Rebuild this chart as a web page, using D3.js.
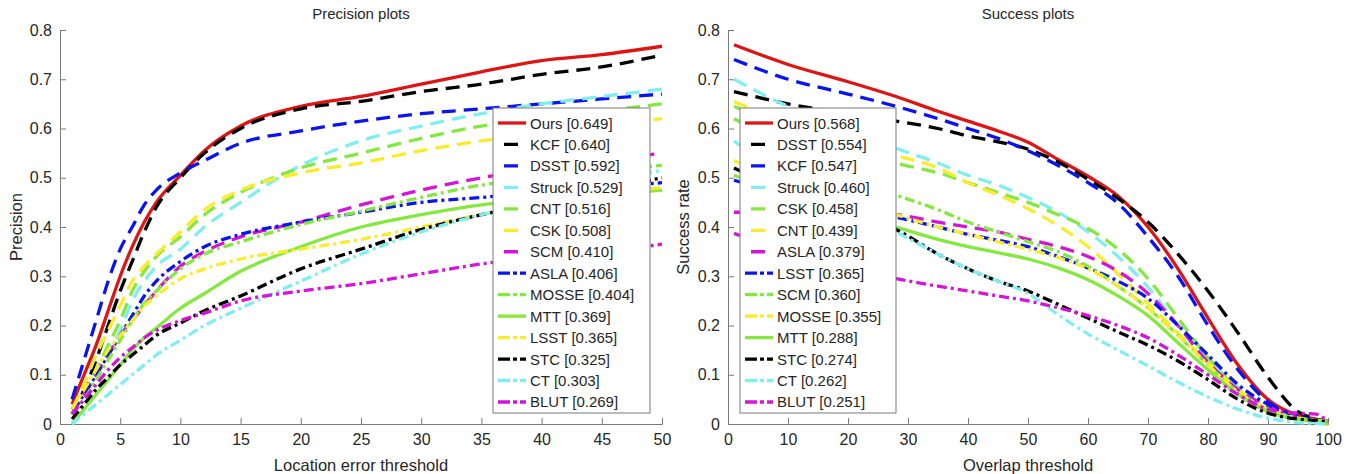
<!DOCTYPE html>
<html>
<head>
<meta charset="utf-8">
<script src="https://cdn.jsdelivr.net/npm/d3@7"></script>
<style>
  body { margin: 0; background: #fff; }
  svg text { font-family: "Liberation Sans", Arial, sans-serif; fill: #262626; }
</style>
</head>
<body>
<div id="chart"></div>
<script>
// ---- data ----
var precThresholds = [1, 2, 3, 4, 5, 6, 7, 8, 10, 12, 15, 20, 25, 30, 35, 40, 45, 50]
var precNames  = ['Ours', 'KCF', 'DSST', 'Struck', 'CNT', 'CSK', 'SCM', 'ASLA', 'MOSSE', 'MTT', 'LSST', 'STC', 'CT', 'BLUT']
var precScores = ['0.649', '0.640', '0.592', '0.529', '0.516', '0.508', '0.410', '0.406', '0.404', '0.369', '0.365', '0.325', '0.303', '0.269']
var precCurves = [
  [0.04, 0.10, 0.16, 0.23, 0.30, 0.36, 0.41, 0.45, 0.505, 0.555, 0.605, 0.645, 0.665, 0.69, 0.715, 0.738, 0.75, 0.767],  // Ours
  [0.02, 0.07, 0.13, 0.20, 0.27, 0.33, 0.39, 0.44, 0.50, 0.55, 0.60, 0.64, 0.655, 0.675, 0.69, 0.71, 0.725, 0.749],      // KCF
  [0.05, 0.13, 0.21, 0.29, 0.355, 0.40, 0.445, 0.475, 0.51, 0.535, 0.57, 0.595, 0.615, 0.63, 0.64, 0.65, 0.66, 0.67],    // DSST
  [0.02, 0.06, 0.10, 0.145, 0.19, 0.25, 0.29, 0.32, 0.355, 0.40, 0.45, 0.525, 0.575, 0.605, 0.63, 0.65, 0.665, 0.68],    // Struck
  [0.02, 0.06, 0.11, 0.16, 0.21, 0.27, 0.31, 0.34, 0.38, 0.425, 0.47, 0.52, 0.55, 0.58, 0.605, 0.62, 0.635, 0.65],       // CNT
  [0.03, 0.08, 0.14, 0.19, 0.24, 0.29, 0.32, 0.345, 0.39, 0.435, 0.475, 0.51, 0.53, 0.555, 0.575, 0.59, 0.605, 0.62],    // CSK
  [0.02, 0.06, 0.10, 0.14, 0.18, 0.21, 0.24, 0.27, 0.32, 0.35, 0.38, 0.41, 0.445, 0.475, 0.50, 0.52, 0.535, 0.55],       // SCM
  [0.03, 0.06, 0.10, 0.14, 0.18, 0.22, 0.26, 0.29, 0.33, 0.36, 0.385, 0.41, 0.43, 0.45, 0.46, 0.47, 0.48, 0.49],         // ASLA
  [0.02, 0.05, 0.09, 0.13, 0.17, 0.21, 0.245, 0.27, 0.315, 0.345, 0.37, 0.405, 0.432, 0.46, 0.485, 0.50, 0.515, 0.525],  // MOSSE
  [0.0, 0.03, 0.06, 0.09, 0.12, 0.15, 0.175, 0.195, 0.235, 0.265, 0.31, 0.36, 0.40, 0.425, 0.445, 0.455, 0.465, 0.475],  // MTT
  [0.03, 0.07, 0.11, 0.15, 0.18, 0.21, 0.24, 0.26, 0.295, 0.315, 0.335, 0.355, 0.375, 0.40, 0.425, 0.445, 0.465, 0.48],  // LSST
  [0.01, 0.04, 0.07, 0.095, 0.12, 0.14, 0.16, 0.18, 0.205, 0.23, 0.26, 0.315, 0.355, 0.395, 0.425, 0.45, 0.475, 0.50],   // STC
  [0.0, 0.02, 0.04, 0.06, 0.08, 0.10, 0.12, 0.14, 0.17, 0.20, 0.235, 0.29, 0.345, 0.39, 0.425, 0.455, 0.49, 0.515],      // CT
  [0.02, 0.05, 0.08, 0.11, 0.135, 0.155, 0.175, 0.19, 0.21, 0.225, 0.25, 0.27, 0.285, 0.305, 0.325, 0.34, 0.35, 0.365]   // BLUT
]

var succThresholds = [1, 10, 20, 28, 35, 40, 45, 50, 55, 60, 65, 70, 75, 80, 85, 90, 95, 98, 100]
var succNames  = ['Ours', 'DSST', 'KCF', 'Struck', 'CSK', 'CNT', 'ASLA', 'LSST', 'SCM', 'MOSSE', 'MTT', 'STC', 'CT', 'BLUT']
var succScores = ['0.568', '0.554', '0.547', '0.460', '0.458', '0.439', '0.379', '0.365', '0.360', '0.355', '0.288', '0.274', '0.262', '0.251']
var succCurves = [
  [0.77, 0.73, 0.695, 0.665, 0.635, 0.615, 0.595, 0.572, 0.537, 0.503, 0.463, 0.40, 0.315, 0.215, 0.12, 0.05, 0.018, 0.01, 0.005], // Ours
  [0.675, 0.65, 0.63, 0.615, 0.60, 0.585, 0.573, 0.558, 0.532, 0.497, 0.458, 0.41, 0.345, 0.27, 0.185, 0.095, 0.025, 0.01, 0.005], // DSST
  [0.74, 0.70, 0.67, 0.645, 0.62, 0.60, 0.58, 0.555, 0.525, 0.49, 0.448, 0.38, 0.30, 0.20, 0.11, 0.045, 0.015, 0.008, 0.005],  // KCF
  [0.70, 0.645, 0.60, 0.56, 0.53, 0.505, 0.485, 0.46, 0.43, 0.39, 0.34, 0.278, 0.20, 0.13, 0.075, 0.035, 0.01, 0.003, 0.0],    // Struck
  [0.645, 0.60, 0.56, 0.53, 0.51, 0.49, 0.47, 0.45, 0.425, 0.397, 0.355, 0.295, 0.215, 0.135, 0.07, 0.03, 0.01, 0.004, 0.0],   // CSK
  [0.655, 0.61, 0.57, 0.545, 0.52, 0.49, 0.465, 0.437, 0.403, 0.36, 0.305, 0.245, 0.185, 0.125, 0.07, 0.03, 0.01, 0.004, 0.0], // CNT
  [0.43, 0.43, 0.43, 0.425, 0.41, 0.40, 0.39, 0.375, 0.36, 0.34, 0.31, 0.265, 0.20, 0.125, 0.07, 0.035, 0.015, 0.008, 0.005],  // ASLA
  [0.495, 0.465, 0.44, 0.42, 0.40, 0.385, 0.373, 0.36, 0.34, 0.317, 0.29, 0.255, 0.20, 0.14, 0.08, 0.04, 0.015, 0.008, 0.005], // LSST
  [0.62, 0.56, 0.50, 0.465, 0.435, 0.41, 0.39, 0.37, 0.35, 0.32, 0.28, 0.235, 0.18, 0.12, 0.065, 0.03, 0.01, 0.005, 0.0],      // SCM
  [0.535, 0.49, 0.455, 0.425, 0.40, 0.385, 0.37, 0.355, 0.338, 0.315, 0.28, 0.235, 0.18, 0.12, 0.065, 0.03, 0.012, 0.008, 0.005], // MOSSE
  [0.505, 0.465, 0.43, 0.40, 0.375, 0.36, 0.348, 0.335, 0.317, 0.293, 0.26, 0.22, 0.165, 0.11, 0.06, 0.025, 0.01, 0.007, 0.005], // MTT
  [0.52, 0.47, 0.43, 0.395, 0.345, 0.315, 0.29, 0.27, 0.243, 0.215, 0.187, 0.16, 0.128, 0.09, 0.05, 0.022, 0.01, 0.007, 0.005], // STC
  [0.575, 0.50, 0.44, 0.39, 0.345, 0.315, 0.29, 0.265, 0.222, 0.183, 0.15, 0.118, 0.085, 0.055, 0.03, 0.012, 0.003, 0.001, 0.0], // CT
  [0.387, 0.35, 0.315, 0.295, 0.28, 0.27, 0.26, 0.25, 0.236, 0.22, 0.20, 0.175, 0.14, 0.10, 0.06, 0.03, 0.022, 0.02, 0.005]   // BLUT
]

var yTicks = [0, 0.1, 0.2, 0.3, 0.4, 0.5, 0.6, 0.7, 0.8]

// ---- styles ----
var RED = '#dd1515', BLACK = '#000', BLUE = '#0a14ee', CYAN = '#80eef0',
    GREEN = '#84e83e', YELLOW = '#f8ec2c', MAGENTA = '#d414d8'
var DASH = '14,8', DASHDOT = '10,4,3,4', SOLID = null
var precColors = [RED, BLACK, BLUE, CYAN, GREEN, YELLOW, MAGENTA, BLUE, GREEN, GREEN, YELLOW, BLACK, CYAN, MAGENTA]
var precDashes = [SOLID, DASH, DASH, DASH, DASH, DASH, DASH, DASHDOT, DASHDOT, SOLID, DASHDOT, DASHDOT, DASHDOT, DASHDOT]
var succColors = [RED, BLACK, BLUE, CYAN, GREEN, YELLOW, MAGENTA, BLUE, GREEN, YELLOW, GREEN, BLACK, CYAN, MAGENTA]
var succDashes = [SOLID, DASH, DASH, DASH, DASH, DASH, DASH, DASHDOT, DASHDOT, DASHDOT, SOLID, DASHDOT, DASHDOT, DASHDOT]

var width = 1346, height = 474
var svg = d3.select('#chart').append('svg')
  .attr('width', width).attr('height', height)

function panel(o) {
  var x = d3.scaleLinear().domain([0, o.xMax]).range([o.x0, o.x1])
  var y = d3.scaleLinear().domain([0, 0.8]).range([424, 30])
  var g = svg.append('g')

  // axes (ticks point inward like MATLAB)
  var xa = g.append('g').attr('transform', 'translate(0,424)')
    .call(d3.axisBottom(x).tickValues(o.xTicks).tickSize(-6).tickPadding(10).tickFormat(d3.format('d')))
  var ya = g.append('g').attr('transform', 'translate(' + o.x0 + ',0)')
    .call(d3.axisLeft(y).tickValues(yTicks).tickSize(-6).tickPadding(8)
      .tickFormat(function(d) { return d === 0 ? '0' : d3.format('.1f')(d) }))
  ;[xa, ya].forEach(function(a) {
    a.select('.domain').attr('stroke', '#7a7a7a')
    a.selectAll('.tick line').attr('stroke', '#7a7a7a')
    a.selectAll('.tick text').style('font-size', '16px').attr('fill', '#262626')
  })

  // curves, first entry at the bottom
  var line = d3.line()
    .x(function(d, i) { return x(o.thresholds[i]) })
    .y(function(d) { return y(d) })
    .curve(d3.curveMonotoneX)
  g.selectAll('path.curve').data(o.curves).enter().append('path')
    .attr('class', 'curve')
    .attr('d', line)
    .attr('fill', 'none')
    .attr('stroke', function(d, i) { return o.colors[i] })
    .attr('stroke-width', 3.3)
    .attr('stroke-dasharray', function(d, i) { return o.dashes[i] })

  // titles
  var cx = (o.x0 + o.x1) / 2
  g.append('text').attr('x', cx).attr('y', 19).attr('text-anchor', 'middle')
    .style('font-size', '15px').text(o.title)
  g.append('text').attr('x', cx).attr('y', 471).attr('text-anchor', 'middle')
    .style('font-size', '16.5px').text(o.xLabel)
  g.append('text').attr('transform', 'translate(' + o.yLabelX + ',227) rotate(-90)')
    .attr('text-anchor', 'middle').style('font-size', '16.5px').text(o.yLabel)

  // legend
  var lg = g.append('g').attr('transform', 'translate(' + o.legendX + ',108)')
  lg.append('rect').attr('width', o.legendW).attr('height', 305)
    .attr('fill', '#fff').attr('stroke', '#7a7a7a').attr('stroke-width', 1)
  var rows = lg.selectAll('g.row').data(o.names).enter().append('g')
    .attr('class', 'row')
    .attr('transform', function(d, i) { return 'translate(0,' + (15 + i * 21.46) + ')' })
  rows.append('line')
    .attr('x1', 5).attr('x2', 33).attr('y1', 0).attr('y2', 0)
    .attr('stroke', function(d, i) { return o.colors[i] })
    .attr('stroke-width', 3.3)
    .attr('stroke-dasharray', function(d, i) {
      return o.dashes[i] === DASH ? '0,6,14,8' : o.dashes[i] === DASHDOT ? '12,3,4,3,12' : null
    })
  rows.append('text').attr('x', 37).attr('y', 5.5)
    .style('font-size', '15px')
    .text(function(d, i) { return d + ' [' + o.scores[i] + ']' })
}

panel({
  x0: 60, x1: 662, xMax: 50, xTicks: d3.range(0, 51, 5),
  thresholds: precThresholds, curves: precCurves, names: precNames, scores: precScores,
  colors: precColors, dashes: precDashes,
  title: 'Precision plots', xLabel: 'Location error threshold', yLabel: 'Precision', yLabelX: 22,
  legendX: 493, legendW: 157
})
panel({
  x0: 728, x1: 1328, xMax: 100, xTicks: d3.range(0, 101, 10),
  thresholds: succThresholds, curves: succCurves, names: succNames, scores: succScores,
  colors: succColors, dashes: succDashes,
  title: 'Success plots', xLabel: 'Overlap threshold', yLabel: 'Success rate', yLabelX: 689,
  legendX: 740, legendW: 156
})
</script>
</body>
</html>
